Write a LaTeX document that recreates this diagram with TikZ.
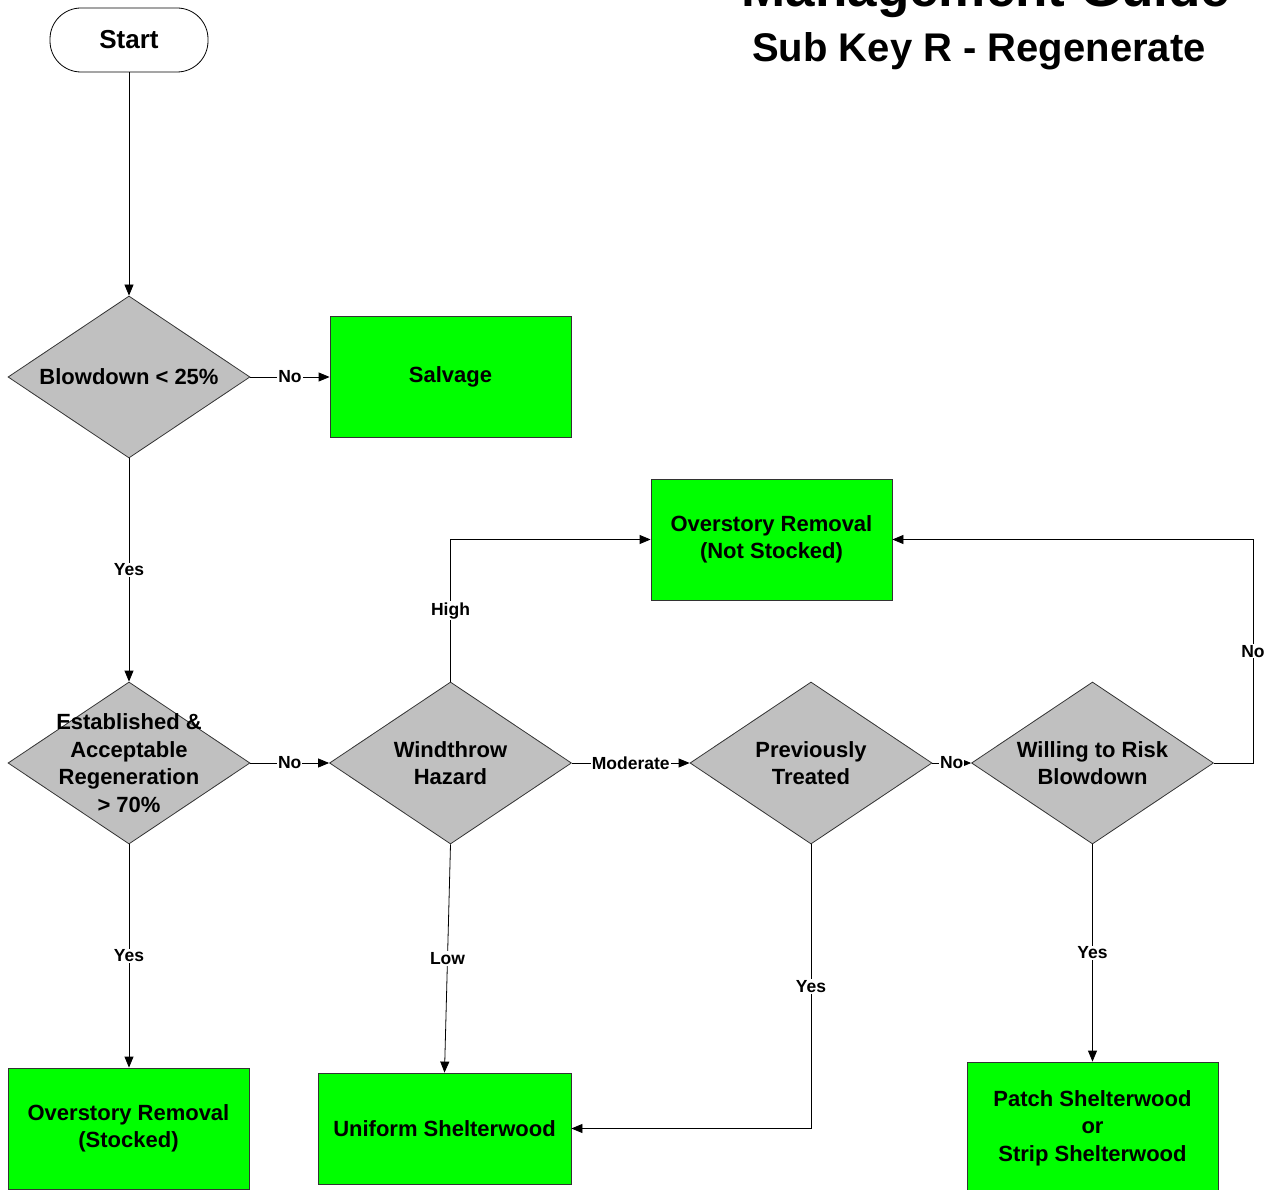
\documentclass[tikz,border=0pt]{standalone}
\usepackage{fontspec}
\setmainfont{Liberation Sans}
\usetikzlibrary{shapes.geometric,arrows.meta}
\definecolor{decgray}{HTML}{C0C0C0}
\definecolor{actgreen}{HTML}{00FF00}
\begin{document}
\begin{tikzpicture}[x=1pt,y=-1pt,
  txt/.style={font=\fontsize{22}{27.5}\selectfont\bfseries, align=center},
  startbox/.style={draw=black, line width=0.8pt, rounded corners=31pt, minimum width=158pt, minimum height=64pt, inner sep=0pt, font=\fontsize{26}{30}\selectfont\bfseries},
  dec/.style={diamond, draw=black!80, line width=0.8pt, fill=decgray, minimum width=242pt, minimum height=162pt, inner sep=0pt},
  act/.style={rectangle, draw=black!80, line width=0.8pt, fill=actgreen, minimum width=241pt, minimum height=121pt, inner sep=0pt, txt},
  arr/.style={draw=black, line width=0.8pt, -{Triangle[length=11pt,width=9pt]}},
  elbl/.style={fill=white, inner sep=1pt, font=\fontsize{17.5}{20}\selectfont\bfseries}
]
\useasboundingbox (0,0) rectangle (1275,1190);

% title
\node[anchor=base, font=\fontsize{53}{60}\selectfont\bfseries, inner sep=0pt] (t1) at (986,7) {Management Guide};
\node[anchor=base, font=\fontsize{40}{48}\selectfont\bfseries, inner sep=0pt] (t2) at (979,62) {Sub Key R - Regenerate};

% nodes
\node[startbox] (start) at (129,40) {Start};
\node[dec, label={[txt]center:Blowdown < 25\%}] (d1) at (129,377) {};
\node[act] (salv) at (450.5,376.5) {Salvage};
\node[dec, label={[txt]center:Established \&\\Acceptable\\Regeneration\\> 70\%}] (d2) at (129,763) {};
\node[dec, label={[txt]center:Windthrow\\Hazard}] (d3) at (450.5,763) {};
\node[dec, label={[txt]center:Previously\\Treated}] (d4) at (811,763) {};
\node[dec, label={[txt]center:Willing to Risk\\Blowdown}] (d5) at (1092.5,763) {};
\node[act] (nots) at (771.5,539.5) {Overstory Removal\\(Not Stocked)};
\node[act] (stk) at (128.5,1128.5) {Overstory Removal\\(Stocked)};
\node[act, minimum width=253pt, minimum height=111pt] (uni) at (444.5,1128.5) {Uniform Shelterwood};
\node[act, minimum width=251pt, minimum height=132pt] (patch) at (1092.5,1128) {Patch Shelterwood\\or\\Strip Shelterwood};

% connectors
\draw[arr] (start.south) -- (d1.north);
\draw[arr] (d1.east) -- node[elbl]{No} (d1.east -| salv.west);
\draw[arr] (d1.south) -- node[elbl]{Yes} (d2.north);
\draw[arr] (d2.east) -- node[elbl]{No} (d3.west);
\draw[arr] (d2.south) -- node[elbl]{Yes} (d2.south |- stk.north);
\draw[arr] (d3.north) |- node[elbl,pos=0.25]{High} (nots.west);
\draw[arr] (d3.south) -- node[elbl]{Low} (uni.north);
\draw[arr] (d3.east) -- node[elbl]{Moderate} (d4.west);
\draw[arr] (d4.east) -- node[elbl]{No} (d5.west);
\draw[arr] (d4.south) |- node[elbl,pos=0.25]{Yes} (uni.east);
\coordinate (r) at (1253,763);
\draw[arr] (d5.east) -- (r) |- node[elbl,pos=0.25]{No} (nots.east);
\draw[arr] (d5.south) -- node[elbl]{Yes} (patch.north);
\end{tikzpicture}
\end{document}
